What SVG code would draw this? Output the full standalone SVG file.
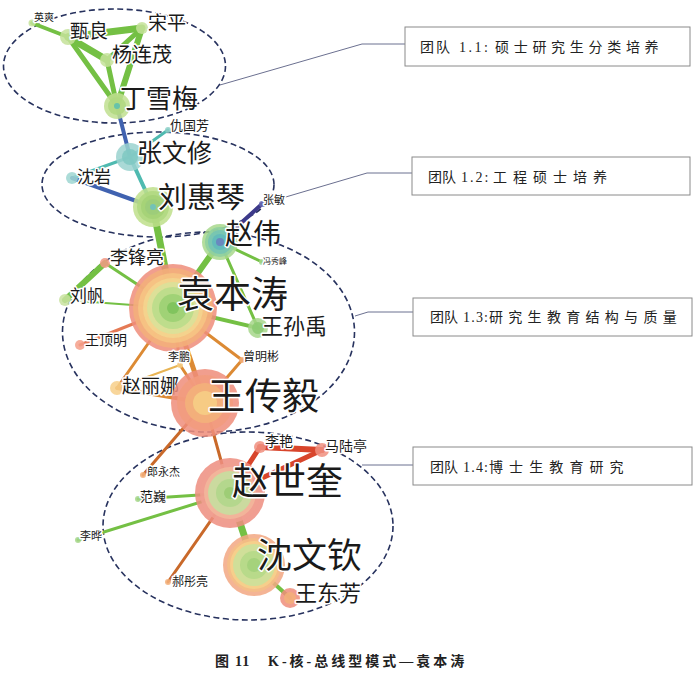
<svg xmlns="http://www.w3.org/2000/svg" width="700" height="678" viewBox="0 0 700 678">
<style>
.lbl{font-family:"Noto Sans CJK SC","Noto Sans",sans-serif;fill:#1a1a1a;stroke:#fff;stroke-width:3;stroke-linejoin:round;paint-order:stroke}
.ell{fill:none;stroke:#27325e;stroke-width:1.6;stroke-dasharray:6 3.5}
.lead{fill:none;stroke:#6b7090;stroke-width:1}
.box{fill:#fff;stroke:#8a8a8a;stroke-width:1}
.btxt{font-family:"Liberation Serif","Noto Sans CJK SC",serif;font-size:14px;fill:#222}
.cap{font-family:"Liberation Serif","Noto Sans CJK SC",serif;font-size:14px;font-weight:bold;fill:#222}
.e{fill:none;stroke-linecap:round}
.g{stroke:#74c044}.t{stroke:#4fbab0}.b{stroke:#4062b0}.p{stroke:#3d3a8a}
.o{stroke:#dc8a34}.y{stroke:#e8b454}.r{stroke:#d8452c}.br{stroke:#c9692a}.s{stroke:#e57a55}
.n circle{opacity:0.86}
</style>

<!-- team ellipses -->
<g id="teams">
<ellipse class="ell" cx="114.5" cy="66" rx="111" ry="57"/>
<ellipse class="ell" cx="158" cy="184.5" rx="116" ry="52.5"/>
<ellipse class="ell" cx="208.5" cy="332" rx="146" ry="100"/>
<ellipse class="ell" cx="248" cy="526" rx="145" ry="94"/>
</g>

<!-- connectors -->
<g id="connectors">
<line class="e g" x1="32" y1="23" x2="68" y2="37" stroke-width="4"/>
<line class="e g" x1="68" y1="37" x2="142" y2="28" stroke-width="7"/>
<line class="e g" x1="68" y1="37" x2="107" y2="60" stroke-width="7"/>
<line class="e g" x1="68" y1="37" x2="117" y2="106" stroke-width="5"/>
<line class="e g" x1="142" y1="28" x2="107" y2="60" stroke-width="5"/>
<line class="e g" x1="142" y1="28" x2="117" y2="106" stroke-width="6"/>
<line class="e g" x1="107" y1="60" x2="117" y2="106" stroke-width="5"/>
<line class="e b" x1="117" y1="106" x2="130" y2="157" stroke-width="4"/>
<line class="e t" x1="130" y1="157" x2="168" y2="130" stroke-width="3"/>
<line class="e t" x1="130" y1="157" x2="72" y2="178" stroke-width="3"/>
<line class="e t" x1="130" y1="157" x2="153" y2="207" stroke-width="4"/>
<line class="e b" x1="72" y1="178" x2="153" y2="207" stroke-width="4"/>
<line class="e g" x1="153" y1="207" x2="173" y2="308" stroke-width="7"/>
<line class="e p" x1="262" y1="204" x2="220" y2="242" stroke-width="4"/>
<line class="e g" x1="220" y1="242" x2="173" y2="308" stroke-width="6"/>
<line class="e g" x1="220" y1="242" x2="262" y2="262" stroke-width="3"/>
<line class="e g" x1="220" y1="242" x2="258" y2="328" stroke-width="3"/>
<line class="e g" x1="173" y1="308" x2="258" y2="328" stroke-width="4"/>
<line class="e g" x1="173" y1="308" x2="105" y2="263" stroke-width="3"/>
<line class="e g" x1="105" y1="263" x2="65" y2="300" stroke-width="6"/>
<line class="e g" x1="173" y1="308" x2="65" y2="300" stroke-width="2"/>
<line class="e s" x1="173" y1="308" x2="80" y2="345" stroke-width="3"/>
<line class="e o" x1="173" y1="308" x2="242" y2="360" stroke-width="3"/>
<line class="e o" x1="242" y1="360" x2="205" y2="403" stroke-width="3"/>
<line class="e o" x1="173" y1="308" x2="180" y2="365" stroke-width="3"/>
<line class="e y" x1="180" y1="365" x2="117" y2="388" stroke-width="2"/>
<line class="e o" x1="180" y1="365" x2="205" y2="403" stroke-width="3"/>
<line class="e o" x1="117" y1="388" x2="205" y2="403" stroke-width="4"/>
<line class="e o" x1="173" y1="308" x2="205" y2="403" stroke-width="5"/>
<line class="e o" x1="173" y1="308" x2="117" y2="388" stroke-width="3"/>
<line class="e br" x1="205" y1="403" x2="143" y2="475" stroke-width="3"/>
<line class="e br" x1="205" y1="403" x2="230" y2="493" stroke-width="3"/>
<line class="e r" x1="230" y1="493" x2="260" y2="447" stroke-width="5"/>
<line class="e r" x1="230" y1="493" x2="322" y2="450" stroke-width="5"/>
<line class="e r" x1="260" y1="447" x2="322" y2="450" stroke-width="6"/>
<line class="e g" x1="230" y1="493" x2="138" y2="499" stroke-width="3"/>
<line class="e g" x1="230" y1="493" x2="78" y2="540" stroke-width="3"/>
<line class="e br" x1="230" y1="493" x2="168" y2="582" stroke-width="3"/>
<line class="e g" x1="230" y1="493" x2="254" y2="565" stroke-width="7"/>
<line class="e g" x1="254" y1="565" x2="290" y2="598" stroke-width="4"/>
<!-- leader lines to team boxes -->
<polyline class="lead" points="220,85 362,44 405,44"/>
<polyline class="lead" points="262,204 367,173 412,173"/>
<polyline class="lead" points="355,316 368,312 413,312"/>
<polyline class="lead" points="362,465 413,465"/>
</g>

<!-- nodes -->
<g id="n-yingshuang" class="n"><circle cx="32" cy="23" r="3.5" fill="#c5e29a"/><text class="lbl" x="34" y="21" font-size="10">英爽</text></g>
<g id="n-zhenliang" class="n"><circle cx="68" cy="37" r="8" fill="#c5e29a"/><text class="lbl" x="70" y="38" font-size="19">甄良</text></g>
<g id="n-songping" class="n"><circle cx="142" cy="28" r="6" fill="#c5e29a"/><text class="lbl" x="148" y="30" font-size="19">宋平</text></g>
<g id="n-yanglianmao" class="n"><circle cx="107" cy="60" r="7" fill="#c5e29a"/><text class="lbl" x="112" y="62" font-size="20">杨连茂</text></g>
<g id="n-dingxuemei" class="n"><circle cx="117" cy="106" r="13" fill="#c0df90"/><circle cx="117" cy="106" r="9" fill="#b0d880"/><circle cx="117" cy="106" r="3" fill="#5bbfb0"/><text class="lbl" x="120" y="108" font-size="26">丁雪梅</text></g>
<g id="n-qiuguofang" class="n"><circle cx="168" cy="130" r="3" fill="#8fd0c8"/><text class="lbl" x="170" y="130" font-size="13">仇国芳</text></g>
<g id="n-zhangwenxiu" class="n"><circle cx="130" cy="157" r="14" fill="#9bd3cf"/><circle cx="130" cy="157" r="8" fill="#7fc8c3"/><text class="lbl" x="137" y="162" font-size="25">张文修</text></g>
<g id="n-shenyan" class="n"><circle cx="72" cy="178" r="6" fill="#9ed6d2"/><text class="lbl" x="77" y="183" font-size="17">沈岩</text></g>
<g id="n-liuhuiqin" class="n"><circle cx="153" cy="207" r="20" fill="#bfe08c"/><circle cx="153" cy="207" r="16" fill="#b0d880"/><circle cx="153" cy="207" r="12" fill="#a4d276"/><circle cx="153" cy="207" r="8" fill="#9ccc7a"/><circle cx="153" cy="207" r="3" fill="#6cc0c0"/><text class="lbl" x="158" y="208" font-size="29">刘惠琴</text></g>
<g id="n-zhangmin" class="n"><circle cx="262" cy="204" r="3" fill="#6a6ab0"/><text class="lbl" x="263" y="204" font-size="11">张敏</text></g>
<g id="n-zhaowei" class="n"><circle cx="220" cy="242" r="18" fill="#a9d98d"/><circle cx="220" cy="242" r="15" fill="#8ecfa0"/><circle cx="220" cy="242" r="12" fill="#74c4b5"/><circle cx="220" cy="242" r="8" fill="#5fb9bb"/><circle cx="220" cy="242" r="4" fill="#6a7fc0"/><text class="lbl" x="225" y="244" font-size="28">赵伟</text></g>
<g id="n-fengxiufeng" class="n"><circle cx="262" cy="262" r="3" fill="#a6d68a"/><text class="lbl" x="263" y="264" font-size="8">冯秀峰</text></g>
<g id="n-lifengliang" class="n"><circle cx="105" cy="263" r="5" fill="#f29a85"/><text class="lbl" x="110" y="264" font-size="18">李锋亮</text></g>
<g id="n-liufan" class="n"><circle cx="65" cy="300" r="6" fill="#c8e2a0"/><text class="lbl" x="70" y="302" font-size="17">刘帆</text></g>
<g id="n-yuanbentao" class="n"><circle cx="173" cy="308" r="44" fill="#ef8e7c"/><circle cx="173" cy="308" r="40" fill="#f3b07a"/><circle cx="173" cy="308" r="35" fill="#f6c583"/><circle cx="173" cy="308" r="30" fill="#f3d58f"/><circle cx="173" cy="308" r="26" fill="#d9e29a"/><circle cx="173" cy="308" r="21" fill="#b9dc8a"/><circle cx="173" cy="308" r="14" fill="#9bd072"/><circle cx="173" cy="308" r="6" fill="#7cc15a"/><text class="lbl" x="177" y="308" font-size="37">袁本涛</text></g>
<g id="n-wangsunyu" class="n"><circle cx="258" cy="328" r="10" fill="#a6d68a"/><circle cx="258" cy="328" r="6" fill="#8ccb72"/><text class="lbl" x="261" y="334" font-size="22">王孙禹</text></g>
<g id="n-wangdingming" class="n"><circle cx="80" cy="345" r="5" fill="#f5a08a"/><text class="lbl" x="85" y="345" font-size="14">王顶明</text></g>
<g id="n-zengmingbin" class="n"><circle cx="242" cy="360" r="3" fill="#f3b07a"/><text class="lbl" x="243" y="361" font-size="12">曾明彬</text></g>
<g id="n-lipeng" class="n"><circle cx="180" cy="365" r="3" fill="#f6cf86"/><text class="lbl" x="168" y="361" font-size="11">李鹏</text></g>
<g id="n-zhaolina" class="n"><circle cx="117" cy="388" r="7" fill="#f7cf8a"/><text class="lbl" x="122" y="393" font-size="19">赵丽娜</text></g>
<g id="n-wangchuanyi" class="n"><circle cx="205" cy="403" r="34" fill="#ef8e7c"/><circle cx="205" cy="403" r="28" fill="#f29c7e"/><circle cx="205" cy="403" r="20" fill="#f3b27a"/><circle cx="205" cy="403" r="12" fill="#f6cf86"/><text class="lbl" x="208" y="410" font-size="37">王传毅</text></g>
<g id="n-langyongjie" class="n"><circle cx="143" cy="475" r="3" fill="#f3b07a"/><text class="lbl" x="147" y="476" font-size="11">郎永杰</text></g>
<g id="n-liyan" class="n"><circle cx="260" cy="447" r="6" fill="#f09080"/><text class="lbl" x="265" y="446" font-size="14">李艳</text></g>
<g id="n-maluting" class="n"><circle cx="322" cy="450" r="7" fill="#f09080"/><text class="lbl" x="325" y="451" font-size="14">马陆亭</text></g>
<g id="n-zhaoshikui" class="n"><circle cx="230" cy="493" r="35" fill="#ee8e80"/><circle cx="230" cy="493" r="30" fill="#f0a090"/><circle cx="230" cy="493" r="26" fill="#f2b89c"/><circle cx="230" cy="493" r="22" fill="#c5e0a0"/><circle cx="230" cy="493" r="14" fill="#b0d68a"/><circle cx="230" cy="493" r="6" fill="#9acb72"/><text class="lbl" x="232" y="495" font-size="37">赵世奎</text></g>
<g id="n-fanwei" class="n"><circle cx="138" cy="499" r="3" fill="#a6d68a"/><text class="lbl" x="140" y="501" font-size="13">范巍</text></g>
<g id="n-liye" class="n"><circle cx="78" cy="540" r="3" fill="#a6d68a"/><text class="lbl" x="80" y="540" font-size="11">李晔</text></g>
<g id="n-haotongliang" class="n"><circle cx="168" cy="582" r="3" fill="#f3b07a"/><text class="lbl" x="172" y="586" font-size="12">郝彤亮</text></g>
<g id="n-shenwenqin" class="n"><circle cx="254" cy="565" r="31" fill="#f2a883"/><circle cx="254" cy="565" r="27" fill="#f5be86"/><circle cx="254" cy="565" r="24" fill="#f6d28c"/><circle cx="254" cy="565" r="21" fill="#c9e29b"/><circle cx="254" cy="565" r="14" fill="#b3d987"/><circle cx="254" cy="565" r="7" fill="#a2d07a"/><text class="lbl" x="257" y="568" font-size="35">沈文钦</text></g>
<g id="n-wangdongfang" class="n"><circle cx="290" cy="598" r="10" fill="#ef8e7c"/><circle cx="290" cy="598" r="6" fill="#f3b07a"/><text class="lbl" x="295" y="601" font-size="22">王东芳</text></g>

<!-- team boxes -->
<g id="box-1-1"><rect class="box" x="405" y="27" width="285" height="39"/><text class="btxt" y="52"><tspan x="420" letter-spacing="2">团队</tspan><tspan x="459" letter-spacing="2.5">1.1:</tspan><tspan x="495" letter-spacing="4.7">硕士研究生分类培养</tspan></text></g>
<g id="box-1-2"><rect class="box" x="412" y="157" width="278" height="38"/><text class="btxt" y="182"><tspan x="428">团队</tspan><tspan x="461" letter-spacing="2">1.2:</tspan><tspan x="493" letter-spacing="6">工程硕士培养</tspan></text></g>
<g id="box-1-3"><rect class="box" x="413" y="298" width="279" height="38"/><text class="btxt" y="322"><tspan x="430">团队</tspan><tspan x="463" letter-spacing="1.2">1.3:</tspan><tspan x="489" letter-spacing="5.3">研究生教育结构与质量</tspan></text></g>
<g id="box-1-4"><rect class="box" x="413" y="447" width="279" height="38"/><text class="btxt" y="472"><tspan x="430">团队</tspan><tspan x="463" letter-spacing="1.2">1.4:</tspan><tspan x="489" letter-spacing="6.1">博士生教育研究</tspan></text></g>

<text class="cap" y="666"><tspan x="215">图</tspan><tspan x="235" letter-spacing="1">11</tspan><tspan x="268" letter-spacing="3">K-核-总线型模式—袁本涛</tspan></text>
</svg>
